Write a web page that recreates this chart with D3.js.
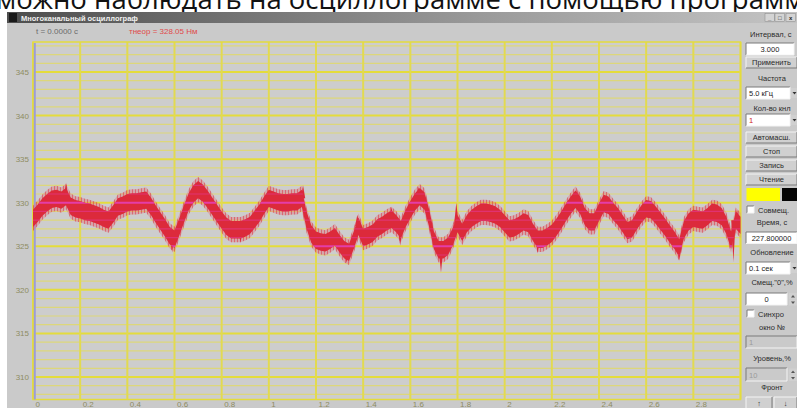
<!DOCTYPE html>
<html>
<head>
<meta charset="utf-8">
<script src="https://cdn.jsdelivr.net/npm/d3@7"></script>
<style>
  body { margin: 0; background: #fff; overflow: hidden; }
  svg { display: block; font-family: "Liberation Sans", Arial, sans-serif; }
</style>
</head>
<body>
<svg id="chart" width="797" height="408"></svg>
<script>

// ---- Data ----
var sampleStep = 0.02;   // seconds between samples
var signalV = [
    328.2, 328.8, 329.5, 330.0, 330.4, 330.5, 330.3, 330.7, 329.6, 329.3,
    329.2, 329.0, 328.9, 328.7, 328.5, 328.2, 328.0, 328.7, 329.5, 329.7,
    330.0, 330.1, 330.1, 330.2, 330.3, 329.6, 328.7, 327.9, 327.1, 326.2,
    325.8, 327.2, 328.7, 330.1, 331.0, 331.5, 331.1, 330.4, 329.6, 328.8,
    328.0, 327.3, 326.9, 326.9, 326.9, 327.1, 327.4, 328.1, 328.8, 329.7,
    330.5, 330.3, 330.1, 330.0, 330.0, 330.1, 330.1, 330.5, 328.0, 326.4,
    325.7, 325.5, 325.4, 325.7, 326.1, 325.3, 324.6, 324.3, 325.7, 327.3,
    326.0, 326.2, 326.5, 327.1, 327.4, 327.8, 328.1, 327.6, 326.9, 328.2,
    329.2, 330.1, 330.7, 330.2, 328.2, 325.7, 324.6, 324.6, 325.0, 326.1,
    327.6, 326.6, 327.6, 328.2, 328.6, 328.9, 328.9, 328.8, 328.6, 328.2,
    327.6, 327.0, 327.1, 327.4, 327.8, 327.6, 326.6, 325.8, 325.8, 326.1,
    326.5, 327.2, 328.0, 328.9, 329.7, 330.4, 329.7, 328.4, 327.8, 327.8,
    328.9, 329.9, 329.7, 329.0, 328.4, 327.6, 326.8, 327.0, 327.9, 328.7,
    329.3, 329.2, 328.6, 327.9, 327.2, 326.4, 325.7, 324.8, 326.9, 327.8,
    328.2, 328.1, 328.0, 328.4, 328.9, 328.8, 328.4, 327.4, 325.7, 328.0,
    327.4
];
var noiseAmp = 1.0;      // half-width of the noise band, same units as signalV

// isolated noise spikes (time, tip value)
var spikeT = [0.14, 0.59, 0.70, 0.88, 1.145, 1.33, 1.375, 1.52, 1.557, 1.635, 1.73, 1.795, 2.14, 2.31, 2.43, 2.74, 2.97, 2.985];
var spikeV = [332.3, 324.3, 332.4, 325.4, 332.0, 323.1, 328.6, 329.5, 325.1, 331.8, 322.0, 330.0, 324.2, 331.5, 330.9, 323.4, 323.2, 329.2];

var xTickValues = [0, 0.2, 0.4, 0.6, 0.8, 1, 1.2, 1.4, 1.6, 1.8, 2, 2.2, 2.4, 2.6, 2.8];
var xTickLabels = ["0", "0.2", "0.4", "0.6", "0.8", "1", "1.2", "1.4", "1.6", "1.8", "2", "2.2", "2.4", "2.6", "2.8"];
var yTickValues = [310, 315, 320, 325, 330, 335, 340, 345];
var yTickLabels = ["310", "315", "320", "325", "330", "335", "340", "345"];

// ---- Layout ----
var plotLeft = 33, plotRight = 740.5, plotTop = 42, plotBottom = 399.5;

var svg = d3.select("#chart");
var defs = svg.append("defs");

var x = d3.scaleLinear().domain([0, 3]).range([plotLeft, plotRight]);
var y = d3.scaleLinear().domain([310, 345]).range([377, 72]);

// page heading, cut off by the screenshot
svg.append("text")
    .attr("x", -4).attr("y", 9)
    .style("font-family", "'Open Sans', sans-serif")
    .style("font-size", "27.5px")
    .attr("fill", "#111")
    .text("можно наблюдать на осциллограмме с помощью программ");

// window body
svg.append("rect").attr("x", 7).attr("y", 12).attr("width", 790).attr("height", 396).attr("fill", "#cacaca");

// title bar
var grad = defs.append("linearGradient").attr("id", "titleGrad");
grad.append("stop").attr("offset", "0%").attr("stop-color", "#4e4e4e");
grad.append("stop").attr("offset", "60%").attr("stop-color", "#9a9a9a");
grad.append("stop").attr("offset", "100%").attr("stop-color", "#c4c4c4");
svg.append("rect").attr("x", 7).attr("y", 12).attr("width", 790).attr("height", 11).attr("fill", "url(#titleGrad)");
svg.append("rect").attr("x", 9).attr("y", 13).attr("width", 8).attr("height", 9).attr("fill", "#1a1a1a");
svg.append("text").attr("x", 21).attr("y", 20.5)
    .style("font-size", "7.5px").style("font-weight", "bold").attr("fill", "#f2f2f2")
    .text("Многоканальный осциллограф");
[765, 775, 786].forEach(function (bx, i) {
    svg.append("rect").attr("x", bx).attr("y", 13.5).attr("width", 9.5).attr("height", 8)
        .attr("fill", "#d4d4d4").attr("stroke", "#888").attr("stroke-width", 0.5);
    svg.append("text").attr("x", bx + 4.7).attr("y", 20).attr("text-anchor", "middle")
        .style("font-size", "6px").style("font-weight", "bold").attr("fill", "#222")
        .text(["_", "□", "x"][i]);
});

// readouts above the plot
svg.append("text").attr("x", 36).attr("y", 34).style("font-size", "8px").attr("fill", "#6a6a6a").text("t = 0.0000 с");
svg.append("text").attr("x", 129).attr("y", 34).style("font-size", "8px").attr("fill", "#e04a4a").text("тнеор = 328.05 Нм");

// plot area
svg.append("rect").attr("x", plotLeft).attr("y", plotTop)
    .attr("width", plotRight - plotLeft).attr("height", plotBottom - plotTop).attr("fill", "#cdcdcd");

// horizontal grid: minor every 1, major every 5
var levels = d3.range(308, 349);
var gridH = svg.append("g").attr("class", "grid-h");
gridH.selectAll("line").data(levels).enter().append("line")
    .attr("x1", plotLeft).attr("x2", plotRight)
    .attr("y1", function (d) { return y(d); }).attr("y2", function (d) { return y(d); })
    .attr("stroke", function (d) { return d % 5 === 0 ? "#e4dc3c" : "#ddd77a"; })
    .attr("stroke-width", function (d) { return d % 5 === 0 ? 2 : 1.2; });

// vertical grid
svg.append("g").selectAll("line").data(xTickValues.concat([3])).enter().append("line")
    .attr("x1", function (d) { return x(d); }).attr("x2", function (d) { return x(d); })
    .attr("y1", plotTop).attr("y2", plotBottom)
    .attr("stroke", "#e2da50").attr("stroke-width", 2);

// plot frame
svg.append("rect").attr("x", plotLeft).attr("y", plotTop)
    .attr("width", plotRight - plotLeft).attr("height", plotBottom - plotTop)
    .attr("fill", "none").attr("stroke", "#e4dc3c").attr("stroke-width", 1.5);
svg.append("line").attr("x1", x(0) + 1.8).attr("x2", x(0) + 1.8).attr("y1", plotTop + 1).attr("y2", plotBottom)
    .attr("stroke", "#9c9cd6").attr("stroke-width", 2);

// ---- signal trace ----
var samples = signalV.map(function (v, i) { return { t: i * sampleStep, v: v }; });

var blur = defs.append("filter").attr("id", "soft").attr("x", "-5%").attr("y", "-20%").attr("width", "110%").attr("height", "140%");
blur.append("feGaussianBlur").attr("stdDeviation", 0.75);

// fine comb so the fringe of the band reads as dense noise
var comb = defs.append("pattern").attr("id", "comb").attr("patternUnits", "userSpaceOnUse")
    .attr("width", 3).attr("height", 4);
comb.append("rect").attr("x", 0).attr("y", 0).attr("width", 1).attr("height", 4).attr("fill", "#dc2b3b").attr("opacity", 0.55);
comb.append("rect").attr("x", 1.5).attr("y", 0).attr("width", 1).attr("height", 4).attr("fill", "#e05868").attr("opacity", 0.3);

var outerArea = d3.area()
    .x(function (d) { return x(d.t); })
    .y0(function (d) { return y(d.v - noiseAmp * 1.45); })
    .y1(function (d) { return y(d.v + noiseAmp * 1.45); });
var coreArea = d3.area()
    .x(function (d) { return x(d.t); })
    .y0(function (d) { return y(d.v - noiseAmp); })
    .y1(function (d) { return y(d.v + noiseAmp); });

var trace = svg.append("g").attr("filter", "url(#soft)");
trace.append("path").attr("d", outerArea(samples)).attr("fill", "#e37a86").attr("opacity", 0.3);
trace.append("path").attr("d", outerArea(samples)).attr("fill", "url(#comb)");
trace.append("path").attr("d", coreArea(samples)).attr("fill", "#dc2b3b");

var spikes = spikeT.map(function (t, i) {
    return { t: t, v: spikeV[i], base: signalV[Math.round(t / sampleStep)] };
});
trace.selectAll("path.spike").data(spikes).enter().append("path")
    .attr("class", "spike")
    .attr("d", function (d) {
        return "M" + (x(d.t) - 2.2) + "," + y(d.base) + "L" + x(d.t) + "," + y(d.v) + "L" + (x(d.t) + 2.2) + "," + y(d.base) + "Z";
    })
    .attr("fill", "#dc2b3b");

// grid lines seen through the trace turn magenta
defs.append("clipPath").attr("id", "traceClip").append("path").attr("d", coreArea(samples));
trace.append("g").attr("clip-path", "url(#traceClip)")
    .selectAll("line").data(levels).enter().append("line")
    .attr("x1", plotLeft).attr("x2", plotRight)
    .attr("y1", function (d) { return y(d); }).attr("y2", function (d) { return y(d); })
    .attr("stroke", "#e43ca8")
    .attr("stroke-width", function (d) { return d % 5 === 0 ? 2 : 1.2; })
    .attr("opacity", function (d) { return d % 5 === 0 ? 1 : 0.5; });

// ---- axes ----
var yAxis = d3.axisLeft(y).tickValues(yTickValues).tickSize(0).tickPadding(4)
    .tickFormat(function (d, i) { return yTickLabels[i]; });
var yG = svg.append("g").attr("transform", "translate(" + plotLeft + ",0)").call(yAxis);
yG.select(".domain").remove();
yG.selectAll("text").style("font-size", "8px").attr("fill", "#8e8c62").style("font-family", "'Liberation Sans', Arial, sans-serif");

var xAxis = d3.axisBottom(x).tickValues(xTickValues).tickSize(0).tickPadding(0)
    .tickFormat(function (d, i) { return xTickLabels[i]; });
var xG = svg.append("g").attr("transform", "translate(0," + (plotBottom + 2) + ")").call(xAxis);
xG.select(".domain").remove();
xG.selectAll("text").attr("text-anchor", "start").attr("x", 2).attr("dy", "0.71em")
    .style("font-size", "8px").attr("fill", "#8e8c62").style("font-family", "'Liberation Sans', Arial, sans-serif");

// ---- right-hand control panel ----
var panel = svg.append("g").style("font-size", "7.5px");

function bevel(g, bx, by, w, h, raised) {
    var light = raised ? "#f4f4f4" : "#7a7a7a";
    var dark = raised ? "#7a7a7a" : "#f4f4f4";
    g.append("path").attr("d", "M" + bx + "," + (by + h) + "V" + by + "H" + (bx + w))
        .attr("fill", "none").attr("stroke", light).attr("stroke-width", 1);
    g.append("path").attr("d", "M" + bx + "," + (by + h) + "H" + (bx + w) + "V" + by)
        .attr("fill", "none").attr("stroke", dark).attr("stroke-width", 1);
}
function label(cx, by, txt, anchor) {
    panel.append("text").attr("x", cx).attr("y", by).attr("text-anchor", anchor || "middle")
        .attr("fill", "#2a2a2a").text(txt);
}
function button(bx, by, w, h, txt) {
    panel.append("rect").attr("x", bx).attr("y", by).attr("width", w).attr("height", h).attr("fill", "#d0d0d0");
    bevel(panel, bx, by, w, h, true);
    label(bx + w / 2, by + h - 3, txt);
}
function field(bx, by, w, h, txt, opts) {
    opts = opts || {};
    panel.append("rect").attr("x", bx).attr("y", by).attr("width", w).attr("height", h)
        .attr("fill", opts.disabled ? "#cacaca" : "#fff");
    bevel(panel, bx, by, w, h, false);
    panel.append("text").attr("x", opts.center ? bx + w / 2 : bx + 3).attr("y", by + h - 3)
        .attr("text-anchor", opts.center ? "middle" : "start")
        .attr("fill", opts.color || (opts.disabled ? "#9a9a9a" : "#222")).text(txt);
}
function combo(bx, by, txt, opts) {
    field(bx, by, 44, 12, txt, opts);
    panel.append("rect").attr("x", 791).attr("y", by + 1).attr("width", 7).attr("height", 10).attr("fill", "#d0d0d0");
    panel.append("path").attr("d", "M792.5," + (by + 5) + "h4l-2,2.5z").attr("fill", "#333");
}
function spinner(by) {
    panel.append("rect").attr("x", 789).attr("y", by).attr("width", 8).attr("height", 6).attr("fill", "#d0d0d0");
    panel.append("rect").attr("x", 789).attr("y", by + 6.5).attr("width", 8).attr("height", 6).attr("fill", "#d0d0d0");
    panel.append("path").attr("d", "M791," + (by + 4.5) + "h4l-2,-2.5z").attr("fill", "#555");
    panel.append("path").attr("d", "M791," + (by + 8.5) + "h4l-2,2.5z").attr("fill", "#555");
}
function checkbox(bx, by, txt) {
    panel.append("rect").attr("x", bx).attr("y", by).attr("width", 7).attr("height", 7).attr("fill", "#fff");
    bevel(panel, bx, by, 7, 7, false);
    label(bx + 11, by + 7, txt, "start");
}

label(750, 37, "Интервал, с", "start");
field(746, 43, 48, 12, "3.000", { center: true });
button(746, 57, 51, 11, "Применить");
label(772, 81, "Частота");
combo(746, 87, "5.0 кГц");
label(772, 110.5, "Кол-во кнл");
combo(746, 114, "1", { color: "#d02020" });
button(746, 132, 51, 11, "Автомасш.");
button(746, 146, 51, 11, "Стоп");
button(746, 160, 51, 11, "Запись");
button(746, 174, 51, 11, "Чтение");
panel.append("rect").attr("x", 746.5).attr("y", 188).attr("width", 33.5).attr("height", 13).attr("fill", "#ffff00");
panel.append("rect").attr("x", 782).attr("y", 188).attr("width", 15).attr("height", 13).attr("fill", "#050505");
checkbox(747, 206, "Совмещ.");
label(772, 224.5, "Время, с");
field(746, 232, 51, 11.5, "227.800000", { center: true });
label(772, 254.5, "Обновление");
combo(746, 262, "0.1 сек");
label(772, 284.5, "Смещ.\"0\",%");
field(746, 293, 41, 12, "0", { center: true });
spinner(293);
checkbox(747, 310, "Синхро");
label(772, 329.5, "окно №");
field(746, 336, 51, 12, "1", { disabled: true });
label(772, 361, "Уровень,%");
field(746, 368, 41, 13, "10", { disabled: true });
spinner(368.5);
label(772, 390, "Фронт");
button(746, 397, 26, 12, "↑");
button(774, 397, 23, 12, "↓");

</script>
</body>
</html>
